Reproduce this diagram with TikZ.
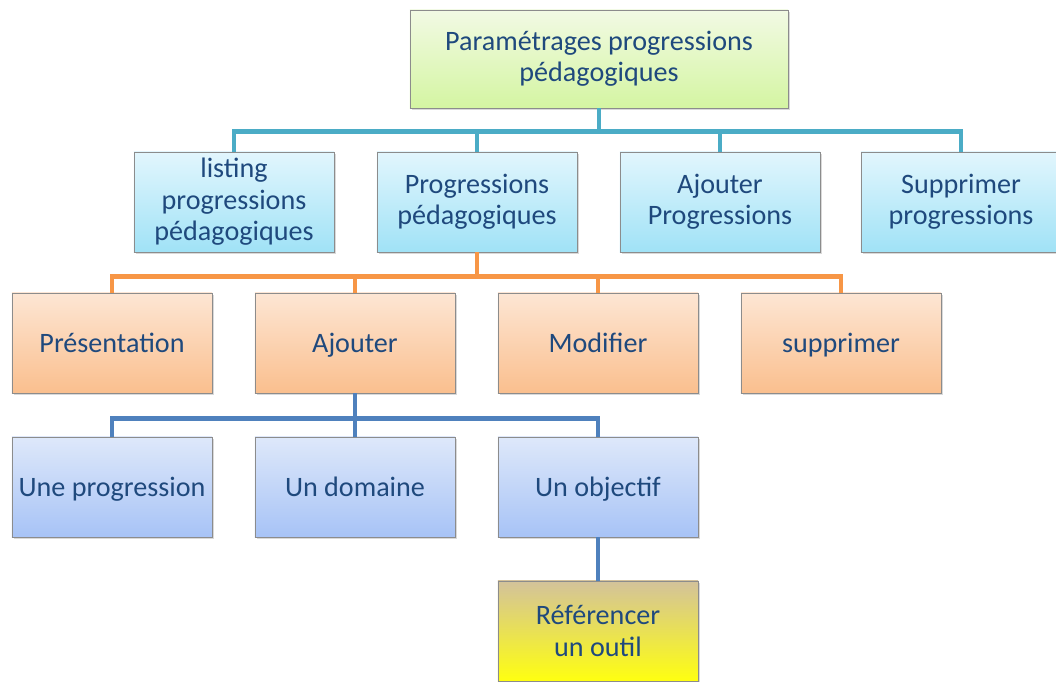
\documentclass[tikz,border=0pt]{standalone}
\usepackage{fontspec}
\setmainfont{Carlito}
\usepackage{tikz}
\usetikzlibrary{shadows}
\usepackage{xcolor}
\definecolor{txtblue}{HTML}{1F497D}
\definecolor{lntealc}{HTML}{4BACC6}
\definecolor{lnorange}{HTML}{F79646}
\definecolor{lnblue}{HTML}{4F81BD}
\definecolor{greentop}{HTML}{F2FAE4}
\definecolor{greenbot}{HTML}{D4F5A2}
\definecolor{cyantop}{HTML}{E2F6FD}
\definecolor{cyanbot}{HTML}{A0E2F6}
\definecolor{orangetop}{HTML}{FDE6D4}
\definecolor{orangebot}{HTML}{FABF8E}
\definecolor{bluetop}{HTML}{DEE8FA}
\definecolor{bluebot}{HTML}{A7C3F6}
\definecolor{tantop}{HTML}{D3C29B}
\definecolor{tanmid}{HTML}{EEE7CA}
\definecolor{yellowbot}{HTML}{FFFF10}

\begin{document}
\begin{tikzpicture}[x=0.025cm, y=-0.025cm,
        box/.style={draw=gray!90, line width=0.6pt, minimum width=5cm, minimum height=2.5cm,
            align=center, text=txtblue, font=\fontsize{20}{22.3}\selectfont,
            drop shadow={shadow xshift=1.2pt, shadow yshift=-1.5pt, opacity=0.3}},
        oneline/.style={text height=2.9ex, text depth=0ex},
        greenbox/.style={box, top color=greentop, bottom color=greenbot},
        cyanbox/.style={box, top color=cyantop, bottom color=cyanbot},
        orangebox/.style={box, oneline, top color=orangetop, bottom color=orangebot},
        bluebox/.style={box, oneline, top color=bluetop, bottom color=bluebot},
        wire/.style={line width=3.5pt}]
    \useasboundingbox (0,0) rectangle (1056,682);
    % boxes
    \node[greenbox, minimum width=9.45cm, minimum height=2.45cm] (param) at (599,59)
        {Paramétrages progressions\\pédagogiques};
    \node[cyanbox] (listing) at (234,202) {listing\\progressions\\pédagogiques};
    \node[cyanbox] (progped) at (477,202) {Progressions\\pédagogiques};
    \node[cyanbox] (ajoutprog) at (720,202) {Ajouter\\Progressions};
    \node[cyanbox] (supprog) at (961,202) {Supprimer\\progressions};
    \node[orangebox] (present) at (112,343) {Présentation};
    \node[orangebox] (ajouter) at (355,343) {Ajouter};
    \node[orangebox] (modifier) at (598,343) {Modifier};
    \node[orangebox] (supprimer) at (841,343) {supprimer};
    \node[bluebox] (uneprog) at (112,487) {Une progression};
    \node[bluebox] (domaine) at (355,487) {Un domaine};
    \node[bluebox] (objectif) at (598,487) {Un objectif};
    \node[box, top color=tantop, middle color=tanmid, bottom color=yellowbot,
        shading angle=0] (outil) at (598,631) {Référencer\\un outil};
    % connectors
    \draw[wire, lntealc] (param.south) -- ++(0,23) -| (listing.north);
    \draw[wire, lntealc] (param.south) -- ++(0,23) -| (progped.north);
    \draw[wire, lntealc] (param.south) -- ++(0,23) -| (ajoutprog.north);
    \draw[wire, lntealc] (param.south) -- ++(0,23) -| (supprog.north);
    \draw[wire, lnorange] (progped.south) -- ++(0,24) -| (present.north);
    \draw[wire, lnorange] (progped.south) -- ++(0,24) -| (ajouter.north);
    \draw[wire, lnorange] (progped.south) -- ++(0,24) -| (modifier.north);
    \draw[wire, lnorange] (progped.south) -- ++(0,24) -| (supprimer.north);
    \draw[wire, lnblue] (ajouter.south) -- ++(0,25) -| (uneprog.north);
    \draw[wire, lnblue] (ajouter.south) -- ++(0,25) -| (domaine.north);
    \draw[wire, lnblue] (ajouter.south) -- ++(0,25) -| (objectif.north);
    \draw[wire, lnblue] (objectif) -- (outil);
\end{tikzpicture}
\end{document}
